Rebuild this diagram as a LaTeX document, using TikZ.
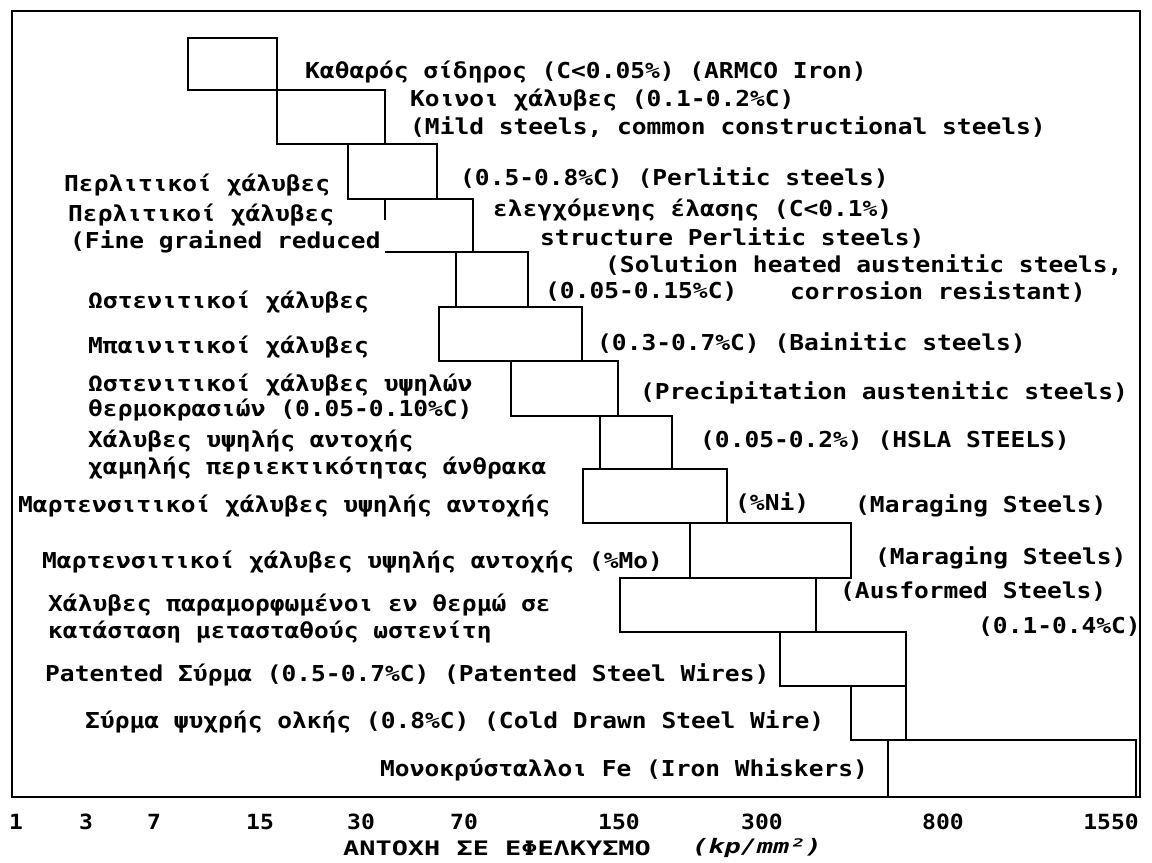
\documentclass[tikz,border=0pt]{standalone}
\usepackage{fontspec}
\newfontfamily\plotfont{DejaVu Sans Mono}[FakeStretch=1.12]
\newfontfamily\numfont{DejaVu Sans Mono}[FakeStretch=1.1]
\newfontfamily\titlefont{DejaVu Sans Mono}[FakeStretch=1.35]
\begin{document}
\begin{tikzpicture}[x=1bp,y=-1bp,
  lbl/.style={font=\plotfont\bfseries\fontsize{22}{26}\selectfont, anchor=west, inner sep=0pt, text=black},
  num/.style={font=\numfont\bfseries\fontsize{21}{25}\selectfont, anchor=center, inner sep=0pt},
  bar/.style={draw=black, line width=2.6bp}]
\useasboundingbox (0,0) rectangle (1152,863);
\fill[white] (0,0) rectangle (1152,863);
% frame
\draw[bar] (12,11) rectangle (1140,797);
% bars
\draw[bar] (188,38) rectangle (277,90);
\draw[bar] (277,90) rectangle (385,144);
\draw[bar] (348,144) rectangle (437,199);
\draw[bar] (385,220) -- (385,199) -- (473,199) -- (473,252) -- (385,252);
\draw[bar] (456,252) rectangle (528,307);
\draw[bar] (439,307) rectangle (582,361);
\draw[bar] (511,361) rectangle (618,416);
\draw[bar] (600,416) rectangle (672,469);
\draw[bar] (583,469) rectangle (727,523);
\draw[bar] (690,523) rectangle (851,578);
\draw[bar] (620,578) rectangle (816,632);
\draw[bar] (780,632) rectangle (906,686);
\draw[bar] (851,686) rectangle (906,740);
\draw[bar] (888,740) rectangle (1136,797);
% labels
\node[lbl] (l1) at (305,72) {Καθαρός σίδηρος (C<0.05\%) (ARMCO Iron)};
\node[lbl] (l2) at (410,100) {Κοινοι χάλυβες (0.1-0.2\%C)};
\node[lbl] (l3) at (410,127) {(Mild steels, common constructional steels)};
\node[lbl] (l4) at (64,185) {Περλιτικοί χάλυβες};
\node[lbl] (l5) at (460,178) {(0.5-0.8\%C) (Perlitic steels)};
\node[lbl] (l6) at (68,215) {Περλιτικοί χάλυβες};
\node[lbl] (l7) at (70,242) {(Fine grained reduced};
\node[lbl] (l8) at (493,210) {ελεγχόμενης έλασης (C<0.1\%)};
\node[lbl] (l9) at (540,238) {structure Perlitic steels)};
\node[lbl] (l10) at (605,265) {(Solution heated austenitic steels,};
\node[lbl] (l11) at (545,292) {(0.05-0.15\%C)};
\node[lbl] (l12) at (790,292) {corrosion resistant)};
\node[lbl] (l13) at (88,302) {Ωστενιτικοί χάλυβες};
\node[lbl] (l14) at (88,347) {Μπαινιτικοί χάλυβες};
\node[lbl] (l15) at (597,343) {(0.3-0.7\%C) (Bainitic steels)};
\node[lbl] (l16) at (88,385) {Ωστενιτικοί χάλυβες υψηλών};
\node[lbl] (l17) at (88,410) {θερμοκρασιών (0.05-0.10\%C)};
\node[lbl] (l18) at (640,393) {(Precipitation austenitic steels)};
\node[lbl] (l19) at (88,441) {Χάλυβες υψηλής αντοχής};
\node[lbl] (l20) at (88,468) {χαμηλής περιεκτικότητας άνθρακα};
\node[lbl] (l21) at (700,441) {(0.05-0.2\%) (HSLA STEELS)};
\node[lbl] (l22) at (18,506) {Μαρτενσιτικοί χάλυβες υψηλής αντοχής};
\node[lbl] (l23) at (735,503) {(\%Ni)};
\node[lbl] (l24) at (855,506) {(Maraging Steels)};
\node[lbl] (l25) at (42,562) {Μαρτενσιτικοί χάλυβες υψηλής αντοχής (\%Mo)};
\node[lbl] (l26) at (875,558) {(Maraging Steels)};
\node[lbl] (l27) at (840,592) {(Ausformed Steels)};
\node[lbl] (l28) at (48,605) {Χάλυβες παραμορφωμένοι εν θερμώ σε};
\node[lbl] (l29) at (48,632) {κατάσταση μετασταθούς ωστενίτη};
\node[lbl] (l30) at (978,627) {(0.1-0.4\%C)};
\node[lbl] (l31) at (45,675) {Patented Σύρμα (0.5-0.7\%C) (Patented Steel Wires)};
\node[lbl] (l32) at (85,722) {Σύρμα ψυχρής ολκής (0.8\%C) (Cold Drawn Steel Wire)};
\node[lbl] (l33) at (380,770) {Μονοκρύσταλλοι Fe (Iron Whiskers)};
% axis numbers
\node[num] (n1) at (16,822) {1};
\node[num] (n3) at (86,822) {3};
\node[num] (n7) at (154,822) {7};
\node[num] (n15) at (260,822) {15};
\node[num] (n30) at (361,822) {30};
\node[num] (n70) at (464,822) {70};
\node[num] (n150) at (619,822) {150};
\node[num] (n300) at (762,822) {300};
\node[num] (n800) at (943,822) {800};
\node[num] (n1550) at (1111,822) {1550};
% axis title
\node[anchor=west, inner sep=0pt, font=\titlefont\bfseries\fontsize{20}{24}\selectfont] (title) at (343,848) {ΑΝΤΟΧΗ ΣΕ ΕΦΕΛΚΥΣΜΟ};
\node[anchor=west, inner sep=0pt, font=\titlefont\bfseries\itshape\fontsize{20}{24}\selectfont] (unit) at (692,848) {(kp/mm²)};
\end{tikzpicture}
\end{document}
